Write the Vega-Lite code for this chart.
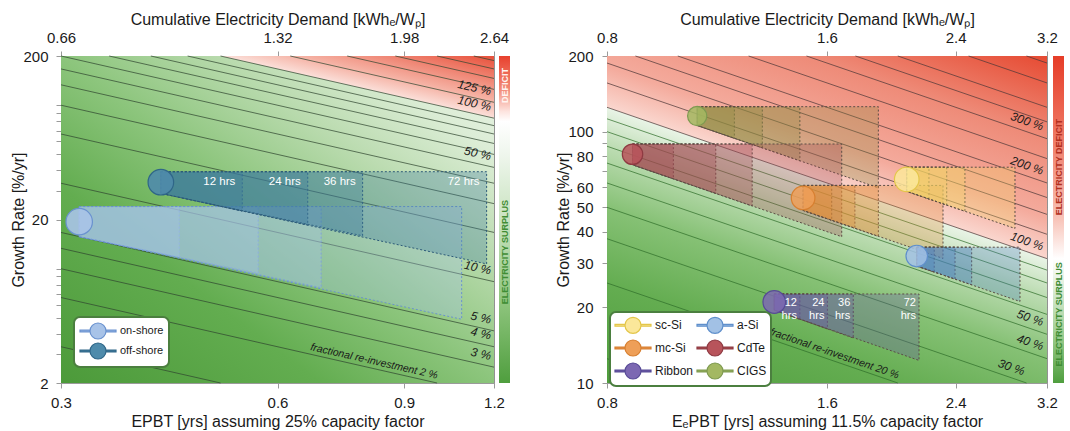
{
  "$schema": "https://vega.github.io/schema/vega-lite/v6.json",
  "background": "white",
  "padding": {"left": 10, "top": 10, "right": 0, "bottom": 0},
  "config": {
    "font": "Liberation Sans",
    "view": {"stroke": "#9a9a9a"},
    "axis": {"labelFontSize": 15, "titleFontSize": 16, "titleFontWeight": "normal", "labelColor": "#1a1a1a", "titleColor": "#1a1a1a", "domainColor": "#9a9a9a", "tickColor": "#9a9a9a", "gridColor": "#8a8a8a", "gridOpacity": 0.5, "tickSize": 5, "labelPadding": 4, "titlePadding": 5, "labelFlush": false, "labelOverlap": false},
    "legend": {"labelFont": "Liberation Sans", "labelColor": "#1a1a1a", "strokeWidth": 2}
  },
  "datasets": {
    "bgL": [{"x": 0.3, "x2": 1.2, "y": 2, "y2": 200}],
    "bgR": [{"x": 0.8, "x2": 3.2, "y": 10, "y2": 200}],
    "redL": [{"x": 0.5, "lo": 200, "hi": 200}, {"x": 1.2, "lo": 83.33, "hi": 200}],
    "redR": [{"x": 0.8, "lo": 125, "hi": 200}, {"x": 3.2, "lo": 31.25, "hi": 200}],
    "bar": [{"x0": 0, "x1": 1, "y0": 0, "y1": 1}],
    "linesL": [
      {"F": 1, "x": 0.3, "y": 3.333}, {"F": 1, "x": 0.5, "y": 2},
      {"F": 2, "x": 0.3, "y": 6.667}, {"F": 2, "x": 1.0, "y": 2},
      {"F": 3, "x": 0.3, "y": 10}, {"F": 3, "x": 1.2, "y": 2.5},
      {"F": 4, "x": 0.3, "y": 13.333}, {"F": 4, "x": 1.2, "y": 3.333},
      {"F": 5, "x": 0.3, "y": 16.667}, {"F": 5, "x": 1.2, "y": 4.167},
      {"F": 10, "x": 0.3, "y": 33.33}, {"F": 10, "x": 1.2, "y": 8.333},
      {"F": 20, "x": 0.3, "y": 66.67}, {"F": 20, "x": 1.2, "y": 16.67},
      {"F": 30, "x": 0.3, "y": 100}, {"F": 30, "x": 1.2, "y": 25},
      {"F": 40, "x": 0.3, "y": 133.3}, {"F": 40, "x": 1.2, "y": 33.33},
      {"F": 50, "x": 0.3, "y": 166.7}, {"F": 50, "x": 1.2, "y": 41.67},
      {"F": 60, "x": 0.3, "y": 200}, {"F": 60, "x": 1.2, "y": 50},
      {"F": 70, "x": 0.35, "y": 200}, {"F": 70, "x": 1.2, "y": 58.33},
      {"F": 80, "x": 0.4, "y": 200}, {"F": 80, "x": 1.2, "y": 66.67},
      {"F": 90, "x": 0.45, "y": 200}, {"F": 90, "x": 1.2, "y": 75},
      {"F": 100, "x": 0.5, "y": 200}, {"F": 100, "x": 1.2, "y": 83.33},
      {"F": 125, "x": 0.625, "y": 200}, {"F": 125, "x": 1.2, "y": 104.2},
      {"F": 150, "x": 0.75, "y": 200}, {"F": 150, "x": 1.2, "y": 125},
      {"F": 175, "x": 0.875, "y": 200}, {"F": 175, "x": 1.2, "y": 145.8},
      {"F": 200, "x": 1.0, "y": 200}, {"F": 200, "x": 1.2, "y": 166.7},
      {"F": 225, "x": 1.125, "y": 200}, {"F": 225, "x": 1.2, "y": 187.5}
    ],
    "linesR": [
      {"F": 10, "x": 0.8, "y": 12.5}, {"F": 10, "x": 1.0, "y": 10},
      {"F": 20, "x": 0.8, "y": 25}, {"F": 20, "x": 2.0, "y": 10},
      {"F": 30, "x": 0.8, "y": 37.5}, {"F": 30, "x": 3.0, "y": 10},
      {"F": 40, "x": 0.8, "y": 50}, {"F": 40, "x": 3.2, "y": 12.5},
      {"F": 50, "x": 0.8, "y": 62.5}, {"F": 50, "x": 3.2, "y": 15.625},
      {"F": 60, "x": 0.8, "y": 75}, {"F": 60, "x": 3.2, "y": 18.75},
      {"F": 70, "x": 0.8, "y": 87.5}, {"F": 70, "x": 3.2, "y": 21.875},
      {"F": 80, "x": 0.8, "y": 100}, {"F": 80, "x": 3.2, "y": 25},
      {"F": 90, "x": 0.8, "y": 112.5}, {"F": 90, "x": 3.2, "y": 28.125},
      {"F": 100, "x": 0.8, "y": 125}, {"F": 100, "x": 3.2, "y": 31.25},
      {"F": 125, "x": 0.8, "y": 156.25}, {"F": 125, "x": 3.2, "y": 39.06},
      {"F": 150, "x": 0.8, "y": 187.5}, {"F": 150, "x": 3.2, "y": 46.875},
      {"F": 175, "x": 0.875, "y": 200}, {"F": 175, "x": 3.2, "y": 54.69},
      {"F": 200, "x": 1.0, "y": 200}, {"F": 200, "x": 3.2, "y": 62.5},
      {"F": 250, "x": 1.25, "y": 200}, {"F": 250, "x": 3.2, "y": 78.125},
      {"F": 300, "x": 1.5, "y": 200}, {"F": 300, "x": 3.2, "y": 93.75},
      {"F": 350, "x": 1.75, "y": 200}, {"F": 350, "x": 3.2, "y": 109.4},
      {"F": 400, "x": 2.0, "y": 200}, {"F": 400, "x": 3.2, "y": 125},
      {"F": 500, "x": 2.5, "y": 200}, {"F": 500, "x": 3.2, "y": 156.25},
      {"F": 600, "x": 3.0, "y": 200}, {"F": 600, "x": 3.2, "y": 187.5}
    ],
    "bandsL": [
      {"tech": "on-shore", "band": "on12", "x": 0.318, "top": 24.0, "bot": 15.7}, {"tech": "on-shore", "band": "on12", "x": 0.438, "top": 24.0, "bot": 11.75},
      {"tech": "on-shore", "band": "on24", "x": 0.318, "top": 24.0, "bot": 15.7}, {"tech": "on-shore", "band": "on24", "x": 0.564, "top": 24.0, "bot": 9.39},
      {"tech": "on-shore", "band": "on36", "x": 0.318, "top": 24.0, "bot": 15.7}, {"tech": "on-shore", "band": "on36", "x": 0.690, "top": 24.0, "bot": 7.66},
      {"tech": "on-shore", "band": "on72", "x": 0.318, "top": 24.0, "bot": 15.7}, {"tech": "on-shore", "band": "on72", "x": 1.082, "top": 24.0, "bot": 4.91},
      {"tech": "off-shore", "band": "off12", "x": 0.413, "top": 39.2, "bot": 28.9}, {"tech": "off-shore", "band": "off12", "x": 0.536, "top": 39.2, "bot": 22.5},
      {"tech": "off-shore", "band": "off24", "x": 0.413, "top": 39.2, "bot": 28.9}, {"tech": "off-shore", "band": "off24", "x": 0.661, "top": 39.2, "bot": 18.5},
      {"tech": "off-shore", "band": "off36", "x": 0.413, "top": 39.2, "bot": 28.9}, {"tech": "off-shore", "band": "off36", "x": 0.788, "top": 39.2, "bot": 15.9},
      {"tech": "off-shore", "band": "off72", "x": 0.413, "top": 39.2, "bot": 28.9}, {"tech": "off-shore", "band": "off72", "x": 1.172, "top": 39.2, "bot": 10.7}
    ],
    "circlesL": [
      {"tech": "on-shore", "x": 0.318, "y": 19.4},
      {"tech": "off-shore", "x": 0.413, "y": 33.8}
    ],
    "hrsL": [
      {"t": "12 hrs", "x": 0.536, "y": 33.8}, {"t": "24 hrs", "x": 0.661, "y": 33.8},
      {"t": "36 hrs", "x": 0.788, "y": 33.8}, {"t": "72 hrs", "x": 1.172, "y": 33.8}
    ],
    "labL": [
      {"t": "125 %", "x": 1.18, "y": 105.9}, {"t": "100 %", "x": 1.18, "y": 84.7},
      {"t": "50 %", "x": 1.18, "y": 42.4}, {"t": "10 %", "x": 1.18, "y": 8.47},
      {"t": "5 %", "x": 1.18, "y": 4.24}, {"t": "4 %", "x": 1.18, "y": 3.39},
      {"t": "3 %", "x": 1.18, "y": 2.54}
    ],
    "fracL": [{"t": "fractional re-investment 2 %", "x": 0.8134, "y": 2.459}],
    "bandsR": [
      {"tech": "CIGS", "band": "g12", "x": 1.063, "top": 125.7, "bot": 105.8}, {"tech": "CIGS", "band": "g12", "x": 1.195, "top": 125.7, "bot": 94.1},
      {"tech": "CIGS", "band": "g24", "x": 1.063, "top": 125.7, "bot": 105.8}, {"tech": "CIGS", "band": "g24", "x": 1.305, "top": 125.7, "bot": 86.2},
      {"tech": "CIGS", "band": "g36", "x": 1.063, "top": 125.7, "bot": 105.8}, {"tech": "CIGS", "band": "g36", "x": 1.469, "top": 125.7, "bot": 76.6},
      {"tech": "CIGS", "band": "g72", "x": 1.063, "top": 125.7, "bot": 105.8}, {"tech": "CIGS", "band": "g72", "x": 1.881, "top": 125.7, "bot": 59.8},
      {"tech": "CdTe", "band": "c12", "x": 0.867, "top": 89.3, "bot": 73.8}, {"tech": "CdTe", "band": "c12", "x": 0.986, "top": 89.3, "bot": 64.9},
      {"tech": "CdTe", "band": "c24", "x": 0.867, "top": 89.3, "bot": 73.8}, {"tech": "CdTe", "band": "c24", "x": 1.127, "top": 89.3, "bot": 56.8},
      {"tech": "CdTe", "band": "c36", "x": 0.867, "top": 89.3, "bot": 73.8}, {"tech": "CdTe", "band": "c36", "x": 1.264, "top": 89.3, "bot": 50.6},
      {"tech": "CdTe", "band": "c72", "x": 0.867, "top": 89.3, "bot": 73.8}, {"tech": "CdTe", "band": "c72", "x": 1.676, "top": 89.3, "bot": 38.2},
      {"tech": "mc-Si", "band": "m12", "x": 1.484, "top": 61.1, "bot": 48.6}, {"tech": "mc-Si", "band": "m12", "x": 1.624, "top": 61.1, "bot": 44.4},
      {"tech": "mc-Si", "band": "m24", "x": 1.484, "top": 61.1, "bot": 48.6}, {"tech": "mc-Si", "band": "m24", "x": 1.747, "top": 61.1, "bot": 41.3},
      {"tech": "mc-Si", "band": "m36", "x": 1.484, "top": 61.1, "bot": 48.6}, {"tech": "mc-Si", "band": "m36", "x": 1.881, "top": 61.1, "bot": 38.3},
      {"tech": "mc-Si", "band": "m72", "x": 1.484, "top": 61.1, "bot": 48.6}, {"tech": "mc-Si", "band": "m72", "x": 2.306, "top": 61.1, "bot": 31.3},
      {"tech": "sc-Si", "band": "s12", "x": 2.057, "top": 72.2, "bot": 57.9}, {"tech": "sc-Si", "band": "s12", "x": 2.206, "top": 72.2, "bot": 54.0},
      {"tech": "sc-Si", "band": "s24", "x": 2.057, "top": 72.2, "bot": 57.9}, {"tech": "sc-Si", "band": "s24", "x": 2.333, "top": 72.2, "bot": 51.0},
      {"tech": "sc-Si", "band": "s36", "x": 2.057, "top": 72.2, "bot": 57.9}, {"tech": "sc-Si", "band": "s36", "x": 2.471, "top": 72.2, "bot": 48.2},
      {"tech": "sc-Si", "band": "s72", "x": 2.057, "top": 72.2, "bot": 57.9}, {"tech": "sc-Si", "band": "s72", "x": 2.893, "top": 72.2, "bot": 41.2},
      {"tech": "a-Si", "band": "a12", "x": 2.123, "top": 34.7, "bot": 29.2}, {"tech": "a-Si", "band": "a12", "x": 2.243, "top": 34.7, "bot": 27.6},
      {"tech": "a-Si", "band": "a24", "x": 2.123, "top": 34.7, "bot": 29.2}, {"tech": "a-Si", "band": "a24", "x": 2.395, "top": 34.7, "bot": 25.9},
      {"tech": "a-Si", "band": "a36", "x": 2.123, "top": 34.7, "bot": 29.2}, {"tech": "a-Si", "band": "a36", "x": 2.524, "top": 34.7, "bot": 24.6},
      {"tech": "a-Si", "band": "a72", "x": 2.123, "top": 34.7, "bot": 29.2}, {"tech": "a-Si", "band": "a72", "x": 2.939, "top": 34.7, "bot": 21.1},
      {"tech": "Ribbon", "band": "r12", "x": 1.355, "top": 22.6, "bot": 19.5}, {"tech": "Ribbon", "band": "r12", "x": 1.469, "top": 22.6, "bot": 17.9},
      {"tech": "Ribbon", "band": "r24", "x": 1.355, "top": 22.6, "bot": 19.5}, {"tech": "Ribbon", "band": "r24", "x": 1.602, "top": 22.6, "bot": 16.4},
      {"tech": "Ribbon", "band": "r36", "x": 1.355, "top": 22.6, "bot": 19.5}, {"tech": "Ribbon", "band": "r36", "x": 1.738, "top": 22.6, "bot": 15.1},
      {"tech": "Ribbon", "band": "r72", "x": 1.355, "top": 22.6, "bot": 19.5}, {"tech": "Ribbon", "band": "r72", "x": 2.138, "top": 22.6, "bot": 12.3}
    ],
    "circlesR": [
      {"tech": "sc-Si", "x": 2.057, "y": 64.6},
      {"tech": "mc-Si", "x": 1.484, "y": 54.5},
      {"tech": "Ribbon", "x": 1.355, "y": 21.0},
      {"tech": "a-Si", "x": 2.123, "y": 32.0},
      {"tech": "CdTe", "x": 0.867, "y": 81.3},
      {"tech": "CIGS", "x": 1.063, "y": 115.4}
    ],
    "hrsR": [
      {"t": "12\nhrs", "x": 1.469, "y": 22.6}, {"t": "24\nhrs", "x": 1.602, "y": 22.6},
      {"t": "36\nhrs", "x": 1.738, "y": 22.6}, {"t": "72\nhrs", "x": 2.138, "y": 22.6}
    ],
    "labR": [
      {"t": "300 %", "x": 3.13, "y": 95.8}, {"t": "200 %", "x": 3.13, "y": 63.9},
      {"t": "100 %", "x": 3.13, "y": 31.9}, {"t": "50 %", "x": 3.13, "y": 15.97},
      {"t": "40 %", "x": 3.13, "y": 12.78}, {"t": "30 %", "x": 2.95, "y": 10.17}
    ],
    "fracR": [{"t": "fractional re-investment 20 %", "x": 1.625, "y": 12.31}],
    "barLtext": [{"t": "DEFICIT", "x": 0.5, "y": 0.91}, {"t": "ELECTRICITY SURPLUS", "x": 0.5, "y": 0.4}],
    "barRtext": [{"t": "ELECTRICITY DEFICIT", "x": 0.5, "y": 0.66}, {"t": "ELECTRICITY SURPLUS", "x": 0.5, "y": 0.21}]
  },
  "spacing": 45,
  "hconcat": [
    {
      "spacing": 5,
      "bounds": "flush",
      "hconcat": [
        {
          "width": 433,
          "height": 327,
          "resolve": {"axis": {"x": "independent"}, "scale": {"fill": "independent", "stroke": "independent"}},
          "layer": [
            {
              "data": {"name": "bgL"},
              "mark": {"type": "rect", "fill": {"gradient": "linear", "x1": 0, "y1": 1, "x2": 1, "y2": 0, "stops": [
                {"offset": 0, "color": "#4c9a3a"}, {"offset": 0.3, "color": "#63ad50"}, {"offset": 0.5, "color": "#8cc57c"},
                {"offset": 0.7, "color": "#bcdcb1"}, {"offset": 0.85, "color": "#dcedd6"}, {"offset": 1, "color": "#eaf4e7"}]}},
              "encoding": {
                "x": {"field": "x", "type": "quantitative", "scale": {"type": "log", "domain": [0.3, 1.2], "nice": false},
                  "axis": {"orient": "bottom", "values": [0.3, 0.6, 0.9, 1.2], "format": ".1f", "grid": true, "labelPadding": 7, "titlePadding": 3, "title": "EPBT [yrs] assuming 25% capacity factor"}},
                "x2": {"field": "x2"},
                "y": {"field": "y", "type": "quantitative", "scale": {"type": "log", "domain": [2, 200], "nice": false},
                  "axis": {"values": [2, 3, 4, 5, 6, 7, 8, 9, 10, 20, 30, 40, 50, 60, 70, 80, 90, 100, 200], "format": "d", "labelExpr": "indexof([2, 20, 200], datum.value) >= 0 ? datum.label : ''", "grid": true, "labelPadding": 8, "titlePadding": -4, "title": "Growth Rate [%/yr]"}},
                "y2": {"field": "y2"}
              }
            },
            {
              "data": {"name": "redL"},
              "mark": {"type": "area", "orient": "vertical", "fill": {"gradient": "linear", "x1": 0, "y1": 1, "x2": 1, "y2": 0, "stops": [
                {"offset": 0.5, "color": "#fbe0da"}, {"offset": 0.65, "color": "#f5b0a2"}, {"offset": 1, "color": "#e8503a"}]}},
              "encoding": {
                "x": {"field": "x", "type": "quantitative", "axis": null},
                "y": {"field": "lo", "type": "quantitative"},
                "y2": {"field": "hi"}
              }
            },
            {
              "data": {"name": "linesL"},
              "mark": {"type": "line", "color": "#2f452f", "strokeWidth": 0.9, "opacity": 0.8},
              "encoding": {
                "x": {"field": "x", "type": "quantitative", "axis": {"orient": "top", "values": [0.3, 0.6, 0.9, 1.2], "labelExpr": "format(datum.value * 2.2, '.2f')", "grid": false, "labelPadding": 6, "titlePadding": 3, "title": "Cumulative Electricity Demand [kWhₑ/Wₚ]"}},
                "y": {"field": "y", "type": "quantitative"},
                "detail": {"field": "F"}
              }
            },
            {
              "data": {"name": "labL"},
              "mark": {"type": "text", "align": "right", "baseline": "bottom", "angle": 12.8, "dy": -3, "fontSize": 12, "fontStyle": "italic", "color": "#1a1a1a"},
              "encoding": {
                "x": {"field": "x", "type": "quantitative", "axis": null},
                "y": {"field": "y", "type": "quantitative"},
                "text": {"field": "t"}
              }
            },
            {
              "data": {"name": "fracL"},
              "mark": {"type": "text", "align": "center", "baseline": "bottom", "angle": 12.8, "dy": -2, "fontSize": 10.5, "fontStyle": "italic", "color": "#1a1a1a"},
              "encoding": {
                "x": {"field": "x", "type": "quantitative", "axis": null},
                "y": {"field": "y", "type": "quantitative"},
                "text": {"field": "t"}
              }
            },
            {
              "data": {"name": "bandsL"},
              "mark": {"type": "area", "orient": "vertical", "fillOpacity": 0.32, "strokeWidth": 1, "strokeDash": [2, 2]},
              "encoding": {
                "x": {"field": "x", "type": "quantitative", "axis": null},
                "y": {"field": "top", "type": "quantitative"},
                "y2": {"field": "bot"},
                "detail": {"field": "band"},
                "fill": {"field": "tech", "type": "nominal", "scale": {"domain": ["on-shore", "off-shore"], "range": ["#a9c4ee", "#3a78a0"]}, "legend": null},
                "stroke": {"field": "tech", "type": "nominal", "scale": {"domain": ["on-shore", "off-shore"], "range": ["#6a92cf", "#2c5a78"]}, "legend": null}
              }
            },
            {
              "data": {"name": "circlesL"},
              "mark": {"type": "point", "shape": "circle", "filled": true, "fillOpacity": 0.9, "opacity": 1, "strokeWidth": 1.2},
              "encoding": {
                "x": {"field": "x", "type": "quantitative", "axis": null},
                "y": {"field": "y", "type": "quantitative"},
                "fill": {"field": "tech", "type": "nominal", "scale": {"domain": ["on-shore", "off-shore"], "range": ["#a8c3e8", "#4f8bab"]},
                  "legend": {"orient": "none", "legendX": 13, "legendY": 261, "title": null, "symbolType": "M-1,-0.11H0.25V0.11H-1Z M2.25,-0.11H3.5V0.11H2.25Z M2.25,0A1,1,0,1,1,0.25,0A1,1,0,1,1,2.25,0Z", "symbolSize": 256, "symbolStrokeWidth": 1.2, "labelFontSize": 11, "labelOffset": 23, "fillColor": "white", "strokeColor": "#4b7f3f", "cornerRadius": 6, "padding": 5, "rowPadding": -2}},
                "stroke": {"field": "tech", "type": "nominal", "scale": {"domain": ["on-shore", "off-shore"], "range": ["#6a92cf", "#2f6688"]}},
                "size": {"field": "tech", "type": "nominal", "scale": {"domain": ["on-shore", "off-shore"], "range": [700, 370]}, "legend": null}
              }
            },
            {
              "data": {"name": "hrsL"},
              "mark": {"type": "text", "align": "right", "baseline": "middle", "dx": -7, "fontSize": 11.5, "color": "white"},
              "encoding": {
                "x": {"field": "x", "type": "quantitative", "axis": null},
                "y": {"field": "y", "type": "quantitative"},
                "text": {"field": "t"}
              }
            }
          ]
        },
        {
          "width": 11,
          "height": 327,
          "view": {"stroke": null},
          "layer": [
            {
              "data": {"name": "bar"},
              "mark": {"type": "rect", "fill": {"gradient": "linear", "x1": 0, "y1": 0, "x2": 0, "y2": 1, "stops": [
                {"offset": 0, "color": "#e8412e"}, {"offset": 0.1, "color": "#f28a76"}, {"offset": 0.17, "color": "#fde4df"},
                {"offset": 0.2, "color": "#ffffff"}, {"offset": 0.3, "color": "#eff6ed"}, {"offset": 0.5, "color": "#c9e3c0"},
                {"offset": 0.75, "color": "#8fc57e"}, {"offset": 1, "color": "#4f9e3e"}]}},
              "encoding": {
                "x": {"field": "x0", "type": "quantitative", "scale": {"domain": [0, 1]}, "axis": null},
                "x2": {"field": "x1"},
                "y": {"field": "y0", "type": "quantitative", "scale": {"domain": [0, 1]}, "axis": null},
                "y2": {"field": "y1"}
              }
            },
            {
              "data": {"name": "barLtext"},
              "mark": {"type": "text", "angle": 270, "align": "center", "baseline": "middle", "fontSize": 9, "fontWeight": "bold"},
              "encoding": {
                "x": {"field": "x", "type": "quantitative", "axis": null},
                "y": {"field": "y", "type": "quantitative", "axis": null},
                "text": {"field": "t"},
                "color": {"field": "t", "type": "nominal", "scale": {"domain": ["DEFICIT", "ELECTRICITY SURPLUS"], "range": ["#fff4f0", "#3f8d34"]}, "legend": null}
              }
            }
          ]
        }
      ]
    },
    {
      "spacing": 6,
      "bounds": "flush",
      "hconcat": [
        {
          "width": 440,
          "height": 327,
          "resolve": {"axis": {"x": "independent"}, "scale": {"fill": "independent", "stroke": "independent"}},
          "layer": [
            {
              "data": {"name": "bgR"},
              "mark": {"type": "rect", "fill": {"gradient": "linear", "x1": 0, "y1": 1, "x2": 0.5575, "y2": -0.2048, "stops": [
                {"offset": 0, "color": "#4e9c3c"}, {"offset": 0.209, "color": "#64ad51"}, {"offset": 0.367, "color": "#86c175"},
                {"offset": 0.495, "color": "#bcdcb2"}, {"offset": 0.574, "color": "#e8f3e5"}, {"offset": 1, "color": "#eef6ec"}]}},
              "encoding": {
                "x": {"field": "x", "type": "quantitative", "scale": {"type": "log", "domain": [0.8, 3.2], "nice": false},
                  "axis": {"orient": "bottom", "values": [0.8, 1.6, 2.4, 3.2], "format": ".1f", "grid": true, "labelPadding": 7, "titlePadding": 3, "title": "EₑPBT [yrs] assuming 11.5% capacity factor"}},
                "x2": {"field": "x2"},
                "y": {"field": "y", "type": "quantitative", "scale": {"type": "log", "domain": [10, 200], "nice": false},
                  "axis": {"values": [10, 20, 30, 40, 50, 60, 70, 80, 90, 100, 200], "format": "d", "labelExpr": "indexof([10, 20, 30, 40, 50, 60, 80, 100, 200], datum.value) >= 0 ? datum.label : ''", "grid": true, "labelPadding": 9, "titlePadding": -4, "title": "Growth Rate [%/yr]"}},
                "y2": {"field": "y2"}
              }
            },
            {
              "data": {"name": "redR"},
              "mark": {"type": "area", "orient": "vertical", "fill": {"gradient": "linear", "x1": 0, "y1": 0.253, "x2": 0.4795, "y2": -0.389, "stops": [
                {"offset": 0, "color": "#fad6ce"}, {"offset": 0.2, "color": "#f4ab9d"}, {"offset": 0.6, "color": "#ee8a77"}, {"offset": 1, "color": "#e64a32"}]}},
              "encoding": {
                "x": {"field": "x", "type": "quantitative", "axis": null},
                "y": {"field": "lo", "type": "quantitative"},
                "y2": {"field": "hi"}
              }
            },
            {
              "data": {"name": "linesR"},
              "mark": {"type": "line", "strokeWidth": 0.9, "opacity": 0.8},
              "encoding": {
                "x": {"field": "x", "type": "quantitative", "axis": {"orient": "top", "values": [0.8, 1.6, 2.4, 3.2], "format": ".1f", "grid": false, "labelPadding": 6, "titlePadding": 3, "title": "Cumulative Electricity Demand [kWhₑ/Wₚ]"}},
                "y": {"field": "y", "type": "quantitative"},
                "detail": {"field": "F"},
                "color": {"field": "F", "type": "quantitative", "scale": {"type": "threshold", "domain": [100], "range": ["#2f6e2a", "#4d3838"]}, "legend": null}
              }
            },
            {
              "data": {"name": "labR"},
              "mark": {"type": "text", "align": "right", "baseline": "bottom", "angle": 19, "dy": -3, "fontSize": 12, "fontStyle": "italic", "color": "#1a1a1a"},
              "encoding": {
                "x": {"field": "x", "type": "quantitative", "axis": null},
                "y": {"field": "y", "type": "quantitative"},
                "text": {"field": "t"}
              }
            },
            {
              "data": {"name": "bandsR"},
              "mark": {"type": "area", "orient": "vertical", "fillOpacity": 0.3, "stroke": "#5b4d45", "strokeWidth": 1, "strokeDash": [2, 2]},
              "encoding": {
                "x": {"field": "x", "type": "quantitative", "axis": null},
                "y": {"field": "top", "type": "quantitative"},
                "y2": {"field": "bot"},
                "detail": {"field": "band"},
                "fill": {"field": "tech", "type": "nominal", "scale": {"domain": ["sc-Si", "a-Si", "mc-Si", "CdTe", "Ribbon", "CIGS"], "range": ["#f3d365", "#4a7fc0", "#e08a35", "#a24450", "#6a55a8", "#8f8a40"]}, "legend": null}
              }
            },
            {
              "data": {"name": "fracR"},
              "mark": {"type": "text", "align": "center", "baseline": "bottom", "angle": 19, "dy": -2, "fontSize": 10.5, "fontStyle": "italic", "color": "#1a1a1a"},
              "encoding": {
                "x": {"field": "x", "type": "quantitative", "axis": null},
                "y": {"field": "y", "type": "quantitative"},
                "text": {"field": "t"}
              }
            },
            {
              "data": {"name": "circlesR"},
              "mark": {"type": "point", "shape": "circle", "filled": true, "fillOpacity": 0.85, "opacity": 1, "strokeWidth": 1.2},
              "encoding": {
                "x": {"field": "x", "type": "quantitative", "axis": null},
                "y": {"field": "y", "type": "quantitative"},
                "fill": {"field": "tech", "type": "nominal", "scale": {"domain": ["sc-Si", "mc-Si", "Ribbon", "a-Si", "CdTe", "CIGS"], "range": ["#fbe79a", "#ee9f58", "#7c68b2", "#a2c1e5", "#b8545b", "#a3b862"]},
                  "legend": {"orient": "none", "legendX": 3, "legendY": 256, "title": null, "columns": 2, "columnPadding": 0, "symbolType": "M-1,-0.11H0.25V0.11H-1Z M2.25,-0.11H3.5V0.11H2.25Z M2.25,0A1,1,0,1,1,0.25,0A1,1,0,1,1,2.25,0Z", "symbolSize": 256, "symbolStrokeWidth": 1.2, "labelFontSize": 12, "labelOffset": 23, "fillColor": "white", "strokeColor": "#4b7f3f", "cornerRadius": 6, "padding": 4, "rowPadding": 1}},
                "stroke": {"field": "tech", "type": "nominal", "scale": {"domain": ["sc-Si", "mc-Si", "Ribbon", "a-Si", "CdTe", "CIGS"], "range": ["#e3c64a", "#d77f30", "#574a96", "#5f8fcb", "#8e3a42", "#7e9a50"]}},
                "size": {"field": "tech", "type": "nominal", "scale": {"domain": ["sc-Si", "mc-Si", "Ribbon", "a-Si", "CdTe", "CIGS"], "range": [452, 491, 230, 300, 340, 280]}, "legend": null}
              }
            },
            {
              "data": {"name": "hrsR"},
              "mark": {"type": "text", "align": "right", "baseline": "top", "dx": -3, "dy": 3, "fontSize": 11, "color": "white", "lineBreak": "\n"},
              "encoding": {
                "x": {"field": "x", "type": "quantitative", "axis": null},
                "y": {"field": "y", "type": "quantitative"},
                "text": {"field": "t"}
              }
            }
          ]
        },
        {
          "width": 11,
          "height": 327,
          "view": {"stroke": null},
          "layer": [
            {
              "data": {"name": "bar"},
              "mark": {"type": "rect", "fill": {"gradient": "linear", "x1": 0, "y1": 0, "x2": 0, "y2": 1, "stops": [
                {"offset": 0, "color": "#e63d28"}, {"offset": 0.25, "color": "#ef7a66"}, {"offset": 0.5, "color": "#f8c4b9"},
                {"offset": 0.62, "color": "#ffffff"}, {"offset": 0.68, "color": "#e9f3e6"}, {"offset": 0.85, "color": "#9fce92"},
                {"offset": 1, "color": "#4f9e3e"}]}},
              "encoding": {
                "x": {"field": "x0", "type": "quantitative", "scale": {"domain": [0, 1]}, "axis": null},
                "x2": {"field": "x1"},
                "y": {"field": "y0", "type": "quantitative", "scale": {"domain": [0, 1]}, "axis": null},
                "y2": {"field": "y1"}
              }
            },
            {
              "data": {"name": "barRtext"},
              "mark": {"type": "text", "angle": 270, "align": "center", "baseline": "middle", "fontSize": 9, "fontWeight": "bold"},
              "encoding": {
                "x": {"field": "x", "type": "quantitative", "axis": null},
                "y": {"field": "y", "type": "quantitative", "axis": null},
                "text": {"field": "t"},
                "color": {"field": "t", "type": "nominal", "scale": {"domain": ["ELECTRICITY DEFICIT", "ELECTRICITY SURPLUS"], "range": ["#b3301e", "#3f8d34"]}, "legend": null}
              }
            }
          ]
        }
      ]
    }
  ]
}
